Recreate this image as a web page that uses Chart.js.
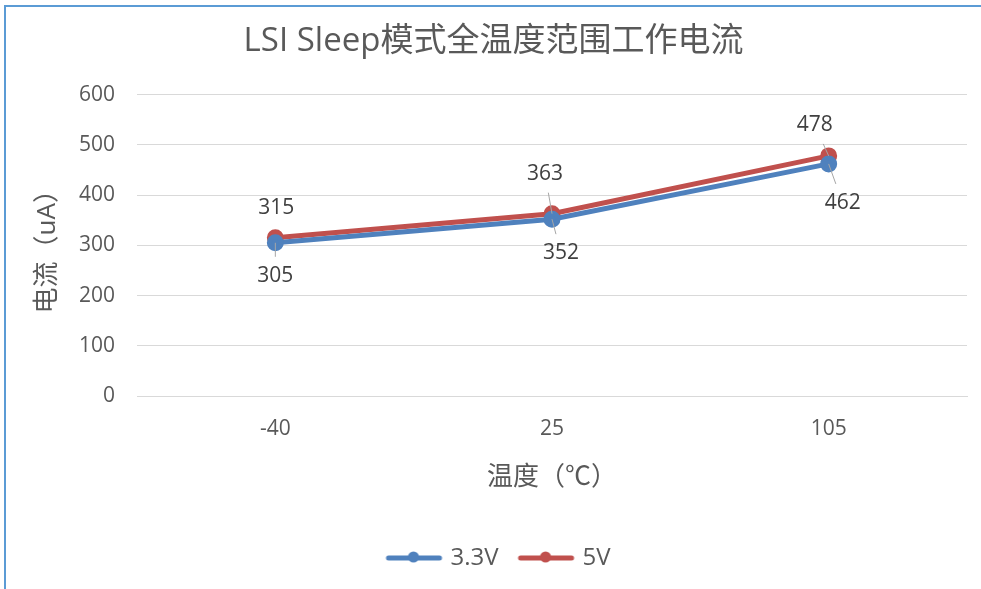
<!DOCTYPE html>
<html>
<head>
<meta charset="utf-8">
<script src="https://cdn.jsdelivr.net/npm/chart.js@4"></script>
<style>
  body { margin: 0; background: #fff; }
  #wrap { position: relative; width: 981px; height: 589px; overflow: hidden; }
  #frame { position: absolute; left: 4px; top: 5px; width: 990px; height: 600px;
           border-top: 2px solid #5b9bd5; border-left: 2px solid #5b9bd5; pointer-events: none; }
  canvas { position: absolute; left: 0; top: 0; }
</style>
</head>
<body>
<div id="wrap">
  <canvas id="chart" width="981" height="589"></canvas>
  <div id="frame"></div>
</div>
<script>
// 数据
var categories = ['-40', '25', '105'];
var series33 = [305, 352, 462];
var series5 = [315, 363, 478];
var yTicks = [0, 100, 200, 300, 400, 500, 600];

var FONT = "'Open Sans', 'Noto Sans CJK SC', sans-serif";
var GREY = '#595959';
var BLUE = '#4f81bd';
var RED = '#c0504d';

// 数据标签的位置偏移 [dx, dy, 是否画引导线]
var labelPlace = [
    [[0, 33, true], [9, 34, true], [14, 39, true]],
    [[1, -30, false], [-7, -40, true], [-14, -31, true]]
];

// 图例图标：线 + 圆点，左边留空当作间距
function legendIcon(color) {
    var c = document.createElement('canvas');
    c.width = 72; c.height = 14;
    var g = c.getContext('2d');
    g.strokeStyle = color;
    g.lineWidth = 5;
    g.lineCap = 'round';
    g.beginPath(); g.moveTo(17, 7); g.lineTo(68, 7); g.stroke();
    g.fillStyle = color;
    g.beginPath(); g.arc(42, 6, 5.5, 0, Math.PI * 2); g.fill();
    return c;
}
var icons = [legendIcon(BLUE), legendIcon(RED)];

var dataLabels = {
    id: 'dataLabels',
    afterDatasetsDraw: function (chart) {
        var ctx = chart.ctx;
        ctx.save();
        chart.data.datasets.forEach(function (ds, di) {
            var meta = chart.getDatasetMeta(di);
            meta.data.forEach(function (pt, i) {
                var p = labelPlace[di][i];
                var lx = pt.x + p[0], ly = pt.y + p[1];
                if (p[2]) {
                    var ey = ly - Math.sign(p[1]) * 19;
                    var k = (ey - pt.y) / p[1];
                    ctx.strokeStyle = '#a6a6a6';
                    ctx.lineWidth = 1;
                    ctx.beginPath();
                    ctx.moveTo(pt.x, pt.y);
                    ctx.lineTo(pt.x + p[0] * k, ey);
                    ctx.stroke();
                }
                ctx.fillStyle = '#404040';
                ctx.font = '21px ' + FONT;
                ctx.textAlign = 'center';
                ctx.textBaseline = 'middle';
                ctx.fillText(ds.data[i], lx, ly);
            });
        });
        ctx.restore();
    }
};

new Chart(document.getElementById('chart').getContext('2d'), {
    type: 'line',
    data: {
        labels: categories,
        datasets: [
            { label: '3.3V', data: series33, borderColor: BLUE, backgroundColor: BLUE,
              borderWidth: 5, pointRadius: 6, pointHoverRadius: 6, tension: 0, fill: false },
            { label: '5V', data: series5, borderColor: RED, backgroundColor: RED,
              borderWidth: 5, pointRadius: 6, pointHoverRadius: 6, tension: 0, fill: false }
        ]
    },
    plugins: [dataLabels],
    options: {
        responsive: false,
        animation: false,
        layout: { padding: { left: 20, right: 14, top: 0, bottom: 9 } },
        scales: {
            x: {
                offset: true,
                grid: { display: false, drawTicks: false },
                border: { color: '#d9d9d9', width: 1 },
                ticks: { color: GREY, font: { size: 21, family: FONT }, padding: 20 },
                title: { display: true, text: '温度（℃）', color: GREY,
                         font: { size: 26, family: FONT }, padding: { bottom: 43 } },
                afterFit: function (s) { s.height = 140; }
            },
            y: {
                min: 0, max: 600,
                afterBuildTicks: function (s) { s.ticks = yTicks.map(function (v) { return { value: v }; }); },
                grid: { color: '#d9d9d9', drawTicks: false },
                border: { display: false },
                ticks: { color: GREY, font: { size: 21, family: FONT }, padding: 22 },
                title: { display: true, text: '电流（uA）', color: GREY,
                         font: { size: 26, family: FONT }, padding: { top: 12 } },
                afterFit: function (s) { s.width = 117; }
            }
        },
        plugins: {
            title: {
                display: true, text: 'LSI Sleep模式全温度范围工作电流', color: GREY,
                font: { size: 33, family: FONT, weight: 'normal' },
                padding: { top: 22, bottom: 33 }
            },
            legend: {
                position: 'bottom',
                labels: {
                    color: GREY, font: { size: 24, family: FONT },
                    usePointStyle: true, pointStyleWidth: 62, padding: 10,
                    generateLabels: function (chart) {
                        var items = Chart.defaults.plugins.legend.labels.generateLabels(chart);
                        items.forEach(function (it, i) { it.pointStyle = icons[i]; });
                        return items;
                    }
                }
            },
            tooltip: { enabled: false }
        }
    }
});
</script>
</body>
</html>
